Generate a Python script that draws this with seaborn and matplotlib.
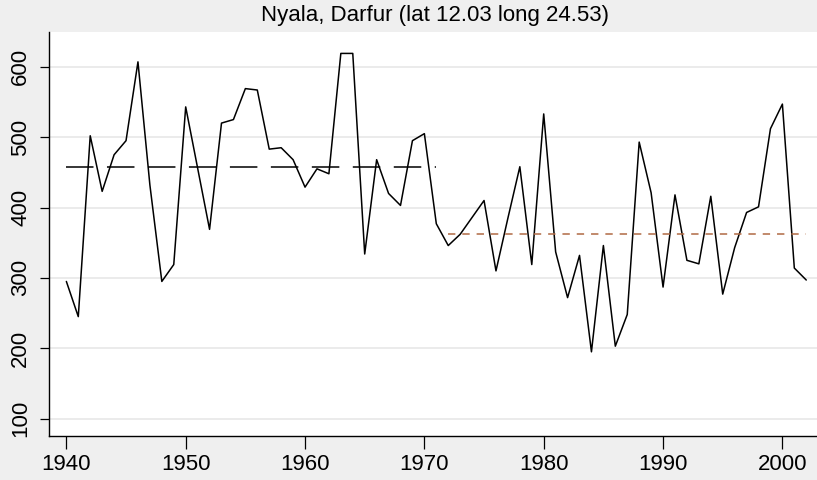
import matplotlib
matplotlib.use("Agg")
import matplotlib.pyplot as plt
import seaborn as sns
import pandas as pd

# Annual rainfall, Nyala (Darfur)
years = list(range(1940, 2003))
rainfall = [
    295, 245, 502, 423, 475, 495, 607, 432, 295, 319,   # 1940-1949
    543, 456, 369, 520, 525, 569, 567, 483, 485, 468,   # 1950-1959
    429, 455, 448, 619, 619, 334, 468, 420, 403, 495,   # 1960-1969
    505, 377, 346, 362, 386, 410, 310, 385, 458, 319,   # 1970-1979
    533, 337, 272, 332, 195, 346, 203, 248, 493, 421,   # 1980-1989
    287, 418, 325, 320, 416, 277, 343, 393, 401, 512,   # 1990-1999
    547, 314, 297,                                      # 2000-2002
]

# period means
early_years = [1940, 1971]
early_mean = [458, 458]
late_years = [1972, 2002]
late_mean = [362, 362]

df = pd.DataFrame({"year": years, "rain": rainfall})
df_early = pd.DataFrame({"year": early_years, "rain": early_mean})
df_late = pd.DataFrame({"year": late_years, "rain": late_mean})

sns.set_theme(style="white")
plt.rcParams["font.family"] = ["Liberation Sans", "DejaVu Sans"]
plt.rcParams["lines.scale_dashes"] = False

bg = "#efefef"
fig = plt.figure(figsize=(8.17, 4.8), dpi=100, facecolor=bg)
ax = fig.add_axes([0.0596, 0.0917, 0.9404, 0.841])
ax.set_facecolor("white")

sns.lineplot(data=df, x="year", y="rain", color="black", linewidth=1.1,
             estimator=None, ax=ax)
sns.lineplot(data=df_early, x="year", y="rain", color="black", linewidth=1.1,
             linestyle=(0, (19.8, 9.7)), estimator=None, ax=ax)
sns.lineplot(data=df_late, x="year", y="rain", color="#b06a44", linewidth=1.1,
             linestyle=(0, (5.3, 5.0)), estimator=None, ax=ax)

ax.set_xlim(1938.52, 2002.9)
ax.set_ylim(75.4, 649)
ax.set_xticks(range(1940, 2001, 10))
ax.set_yticks(range(100, 601, 100))
ax.set_xlabel("")
ax.set_ylabel("")

ax.yaxis.grid(True, color="#e6e6e6", linewidth=1.1)
ax.xaxis.grid(False)
ax.set_axisbelow(True)

for side in ["top", "right"]:
    ax.spines[side].set_visible(False)
for side in ["left", "bottom"]:
    ax.spines[side].set_color("black")
    ax.spines[side].set_linewidth(1.0)

ax.tick_params(axis="x", direction="out", length=9, width=0.9, color="black",
               labelsize=16, labelcolor="black", pad=4, bottom=True)
ax.tick_params(axis="y", direction="out", length=6.7, width=0.9, color="black",
               labelsize=16, labelcolor="black", pad=6, left=True)
for lbl in ax.get_yticklabels():
    lbl.set_rotation(90)
    lbl.set_va("center")

fig.text(0.533, 1 - 16 / 480, "Nyala, Darfur (lat 12.03 long 24.53)",
         ha="center", va="center", fontsize=16, color="black")

fig.savefig("out.png", dpi=100, facecolor=bg)
